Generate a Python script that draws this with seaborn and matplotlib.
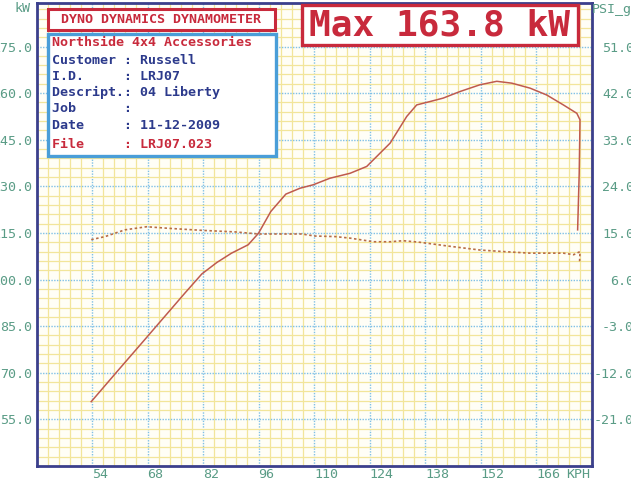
import numpy as np
import matplotlib
matplotlib.use("Agg")
import matplotlib.pyplot as plt
import matplotlib.patches as mpatches
from matplotlib.ticker import FixedLocator
import seaborn as sns
import pandas as pd

# ---------------- data ----------------
power_kph = [53.8, 60.6, 67.8, 70.3, 77.4, 81.7, 85.5, 89.2, 93.4, 96.0, 99.1, 102.9,
             106.5, 109.8, 114.0, 119.1, 123.3, 129.2, 133.4, 135.9, 139.3, 142.6,
             146.8, 151.9, 156.1, 159.9, 164.5, 168.7, 172.9, 176.3, 177.1, 176.9, 176.5]
power_kw = [60.7, 70.8, 81.4, 85.1, 95.6, 101.8, 105.5, 108.5, 111.2, 114.9, 121.9, 127.5,
            129.4, 130.5, 132.6, 134.2, 136.4, 143.9, 152.5, 156.2, 157.3, 158.4,
            160.5, 162.7, 163.8, 163.2, 161.6, 159.4, 156.2, 153.5, 151.4, 134.2, 116.0]

boost_kph = [53.8, 57.3, 62.3, 67.8, 73.2, 81.7, 90.1, 96.0, 106.9, 110.3, 115.3,
             119.1, 125.0, 129.2, 132.5, 136.7, 143.5, 151.9, 157.8, 164.5, 172.9,
             175.5, 177.1, 177.0]
boost_psi = [13.7, 14.3, 15.6, 16.2, 15.9, 15.5, 15.2, 14.8, 14.8, 14.4, 14.3,
             14.0, 13.3, 13.3, 13.5, 13.2, 12.5, 11.7, 11.4, 11.1, 11.1,
             10.8, 11.4, 9.5]

x_ticks = [54, 68, 82, 96, 110, 124, 138, 152, 166]
kw_ticks = [55, 70, 85, 100, 115, 130, 145, 160, 175]
psi_ticks = [-21, -12, -3, 6, 15, 24, 33, 42, 51]

info_lines = ["Customer : Russell", "I.D.     : LRJ07", "Descript.: 04 Liberty",
              "Job      :", "Date     : 11-12-2009"]
company = "Northside 4x4 Accessories"
file_line = "File     : LRJ07.023"
title = "DYNO DYNAMICS DYNAMOMETER"
max_text = "Max 163.8 kW"

# ---------------- style ----------------
W, H = 631, 480
RED = "#c82a3c"
NAVY = "#2c3a8c"
TEAL = "#5a9c86"
BLUEBOX = "#4a9ed8"
FRAME = "#3b3f8c"
MONO = "DejaVu Sans Mono"

fig = plt.figure(figsize=(W / 100, H / 100), dpi=100)
fig.patch.set_facecolor("white")

ax_l, ax_r, ax_t, ax_b = 36.5, 591.5, 3, 466
ax = fig.add_axes([ax_l / W, 1 - ax_b / H, (ax_r - ax_l) / W, (ax_b - ax_t) / H])
ax.set_facecolor("#fffef6")

df_p = pd.DataFrame({"kph": power_kph, "kw": power_kw})
df_b = pd.DataFrame({"kph": boost_kph, "psi": boost_psi})

sns.lineplot(data=df_p, x="kph", y="kw", ax=ax, sort=False, estimator=None,
             color="#bf5a4e", linewidth=1.1, zorder=5)
ax.set_xlim(40, 180)
ax.set_ylim(40, 189)

# grid
ax.set_xticks(x_ticks)
ax.set_yticks(kw_ticks)
ax.xaxis.set_minor_locator(FixedLocator(np.arange(40, 180.1, 2.8)))
ax.yaxis.set_minor_locator(FixedLocator(np.arange(40, 189.5, 3)))
ax.grid(which="minor", color="#f2e59a", linewidth=0.9, linestyle="-", zorder=0)
ax.grid(which="major", color="#7fc0e6", linewidth=1.0, linestyle=(0, (1, 1)), zorder=1)
ax.set_axisbelow(True)
ax.tick_params(which="both", length=0)
ax.set_xlabel("")
ax.set_ylabel("")

ax.set_xticklabels([str(v) for v in x_ticks], ha="left", family=MONO,
                   fontsize=9.6, color=TEAL)
ax.set_yticklabels([f"{v:.1f}" for v in kw_ticks], family=MONO, fontsize=9.6, color=TEAL)
ax.tick_params(axis="x", pad=1.5)
ax.tick_params(axis="y", pad=3.2)

for s in ax.spines.values():
    s.set_color(FRAME)
    s.set_linewidth(2)

# boost on right axis
ax2 = ax.twinx()
sns.lineplot(data=df_b, x="kph", y="psi", ax=ax2, sort=False, estimator=None,
             color="#b86c46", linewidth=1.2, linestyle=(0, (1.5, 1.5)), zorder=5)
ax2.set_ylim(-30, 59.4)
ax2.set_yticks(psi_ticks)
ax2.set_yticklabels([f"{v:.1f}" for v in psi_ticks], family=MONO, fontsize=9.6, color=TEAL)
for lab in ax2.get_yticklabels():
    lab.set_horizontalalignment("right")
ax2.tick_params(axis="y", length=0, pad=30.6)
ax2.set_ylabel("")
for s in ax2.spines.values():
    s.set_visible(False)
ax2.set_xlim(40, 180)


def fx(x):
    return x / W


def fy(y):
    return 1 - y / H


def box(x0, y0, x1, y1, ec, lw=2.2):
    r = mpatches.Rectangle((fx(x0), fy(y1)), (x1 - x0) / W, (y1 - y0) / H,
                           transform=fig.transFigure, facecolor="white",
                           edgecolor=ec, linewidth=lw, zorder=10)
    fig.add_artist(r)


# axis titles
fig.text(fx(31), fy(9), "kW", ha="right", va="center", family=MONO, fontsize=9.6, color=TEAL)
fig.text(fx(592), fy(9), "PSI_g", ha="left", va="center", family=MONO, fontsize=9.6, color=TEAL)
fig.text(fx(566), fy(474), "KPH", ha="left", va="center", family=MONO, fontsize=9.6, color=TEAL)

# info boxes
box(47.5, 8.5, 274.5, 29.5, RED)
fig.text(fx(161), fy(19.5), title, ha="center", va="center", family=MONO,
         fontsize=9.6, fontweight="bold", color=RED, zorder=11)
box(47.5, 33.5, 275.5, 155.5, BLUEBOX, lw=2.4)
fig.text(fx(52), fy(42.5), company, ha="left", va="center", family=MONO,
         fontsize=9.6, fontweight="bold", color=RED, zorder=11)
ys = [61, 76.5, 92.5, 108.5, 125]
for y, line in zip(ys, info_lines):
    fig.text(fx(52), fy(y), line, ha="left", va="center", family=MONO,
             fontsize=9.6, fontweight="bold", color=NAVY, zorder=11)
fig.text(fx(52), fy(144), file_line, ha="left", va="center", family=MONO,
         fontsize=9.6, fontweight="bold", color=RED, zorder=11)

box(301.5, 5.5, 577.5, 44.5, RED, lw=2.4)
fig.text(fx(439.5), fy(26), max_text, ha="center", va="center", family=MONO,
         fontsize=26, fontweight="bold", color=RED, zorder=11)

fig.savefig("out.png", dpi=100)
